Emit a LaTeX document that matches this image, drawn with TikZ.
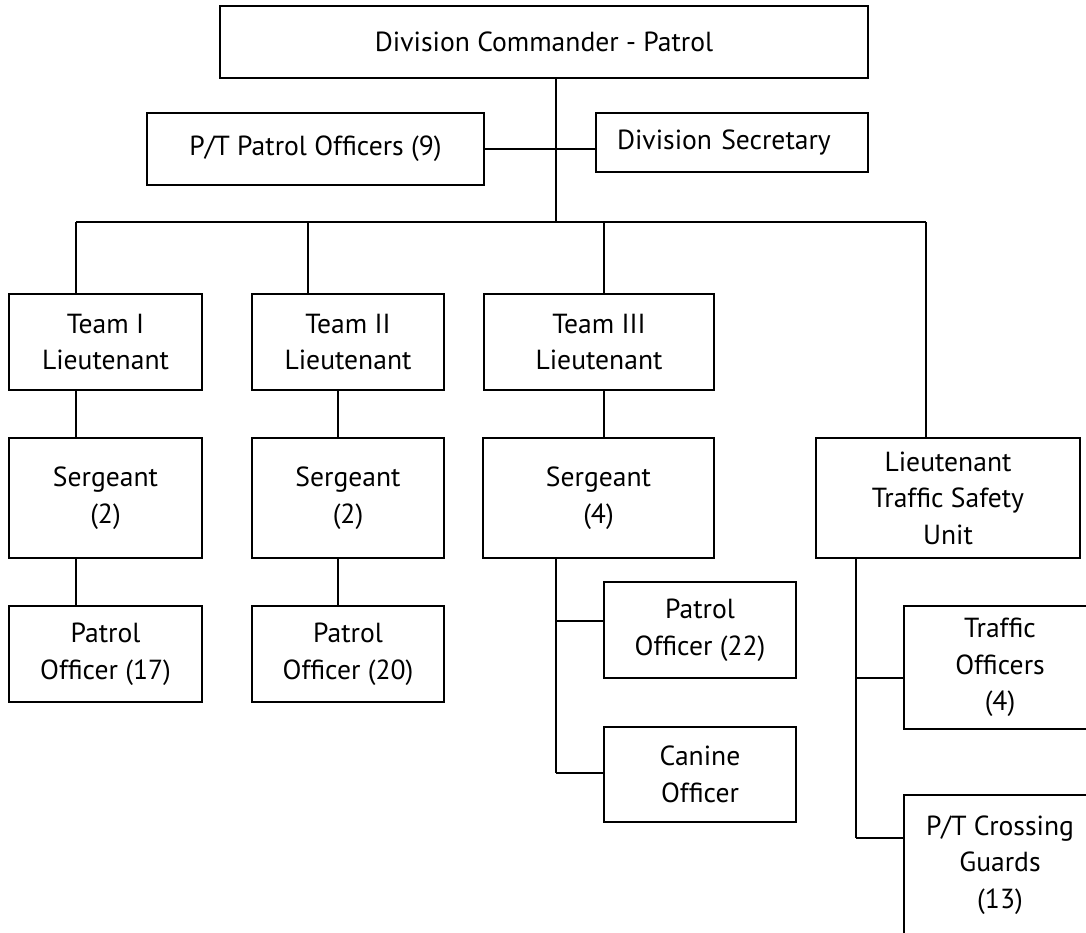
\documentclass[tikz,border=0pt]{standalone}
\usepackage{fontspec}
\setmainfont{PT Sans}
\usepackage{tikz}
\usetikzlibrary{calc}

\tikzset{
  %% boxes of the chart
  unit/.style = {
    rectangle, draw = black, line width = 1pt,
    inner sep = 0pt, align = center,
    font = \fontsize{13.8}{18.3}\selectfont
  },
  leftunit/.style = {
    unit, align = left, inner xsep = 10.5pt,
    text width = 115pt
  },
  %% connecting lines
  link/.style = {draw = black, line width = 1pt}
}

\begin{document}
\begin{tikzpicture}[x=0.5pt, y=-0.5pt]

  \useasboundingbox (0,0) rectangle (1086,932);
  \clip (0,0) rectangle (1086,932);

  %% -- head and staff --
  \node[unit, minimum width=324pt, minimum height=36pt] (cmd) at (544,42)
    {Division Commander - Patrol};
  \node[unit, minimum width=168.5pt, minimum height=36pt] (pto) at (315.5,149)
    {P/T Patrol Officers (9)};
  \node[leftunit, minimum height=29.5pt] (sec) at (732,142.5)
    {Division Secretary};

  %% -- teams --
  \node[unit, minimum width=96.5pt, minimum height=48pt] (t1) at (105.5,342)
    {Team I\\Lieutenant};
  \node[unit, minimum width=96pt, minimum height=48pt] (t2) at (348,342)
    {Team II\\Lieutenant};
  \node[unit, minimum width=115pt, minimum height=48pt] (t3) at (599,342)
    {Team III\\Lieutenant};

  \node[unit, minimum width=96.5pt, minimum height=60pt] (s1) at (105.5,498)
    {Sergeant\\(2)};
  \node[unit, minimum width=96pt, minimum height=60pt] (s2) at (348,498)
    {Sergeant\\(2)};
  \node[unit, minimum width=115.5pt, minimum height=60pt] (s3) at (598.5,498)
    {Sergeant\\(4)};
  \node[unit, minimum width=132pt, minimum height=60pt] (tsu) at (948,498)
    {Lieutenant\\Traffic Safety\\Unit};

  \node[unit, minimum width=96.5pt, minimum height=48pt] (po1) at (105.5,654)
    {Patrol\\Officer (17)};
  \node[unit, minimum width=96pt, minimum height=48pt] (po2) at (348,654)
    {Patrol\\Officer (20)};
  \node[unit, minimum width=96pt, minimum height=48pt] (po3) at (700,630)
    {Patrol\\Officer (22)};
  \node[unit, minimum width=96pt, minimum height=47.5pt] (k9) at (700,774.5)
    {Canine\\Officer};

  %% -- traffic unit --
  \node[unit, minimum width=96pt, minimum height=61.5pt] (tro) at (1000,667.5)
    {Traffic\\Officers\\(4)};
  \node[unit, minimum width=96pt, minimum height=70pt] (xg) at (1000,865)
    {P/T Crossing\\Guards\\(13)};

  %% spine and bus
  \coordinate (bus) at (556,222);
  \coordinate (c1) at (76,222);
  \coordinate (c2) at (308,222);
  \coordinate (c3) at (604,222);
  \coordinate (c4) at (926,222);
  \coordinate (d2) at (338,0);
  \coordinate (j3a) at (556,621);
  \coordinate (j3b) at (556,773);
  \coordinate (j4a) at (856,678);
  \coordinate (j4b) at (856,838);

  \draw[link] (cmd.south -| bus) -- (bus);
  \draw[link] (pto.east) -- (pto.east -| sec.west);
  \draw[link] (c1) -- (c4);

  %% column 1
  \draw[link] (c1) -- (c1 |- t1.north);
  \draw[link] (t1.south -| c1) -- (s1.north -| c1);
  \draw[link] (s1.south -| c1) -- (po1.north -| c1);

  %% column 2
  \draw[link] (c2) -- (c2 |- t2.north);
  \draw[link] (t2.south -| d2) -- (s2.north -| d2);
  \draw[link] (s2.south -| d2) -- (po2.north -| d2);

  %% column 3
  \draw[link] (c3) -- (c3 |- t3.north);
  \draw[link] (t3.south -| c3) -- (s3.north -| c3);
  \draw[link] (s3.south -| j3a) -- (j3b);
  \draw[link] (j3a) -- (j3a -| po3.west);
  \draw[link] (j3b) -- (j3b -| k9.west);

  %% column 4
  \draw[link] (c4) -- (c4 |- tsu.north);
  \draw[link] (tsu.south -| j4a) -- (j4b);
  \draw[link] (j4a) -- (j4a -| tro.west);
  \draw[link] (j4b) -- (j4b -| xg.west);

\end{tikzpicture}
\end{document}
